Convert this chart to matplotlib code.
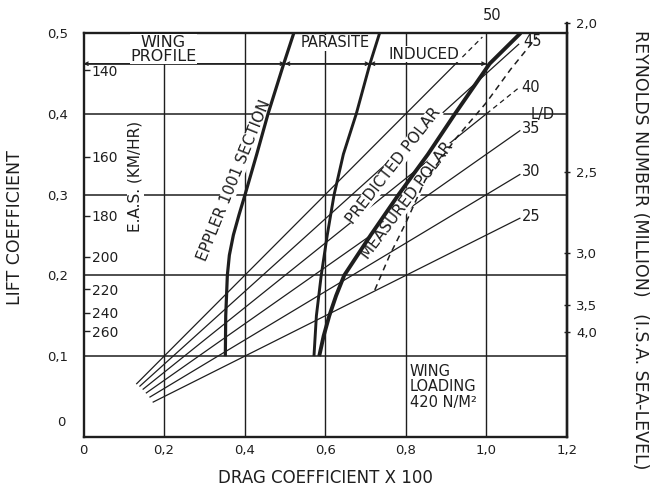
import matplotlib
matplotlib.use("Agg")
import matplotlib.pyplot as plt
import numpy as np

# ---------------- data ----------------
x_ticks = [0, 0.2, 0.4, 0.6, 0.8, 1.0, 1.2]
x_tick_labels = ["0", "0,2", "0,4", "0,6", "0,8", "1,0", "1,2"]
y_ticks = [0.1, 0.2, 0.3, 0.4, 0.5]
y_tick_labels = ["0,1", "0,2", "0,3", "0,4", "0,5"]

eppler_cd = [0.352, 0.353, 0.357, 0.362, 0.372, 0.386, 0.401, 0.430, 0.458, 0.497, 0.522]
eppler_cl = [0.10, 0.15, 0.20, 0.225, 0.25, 0.275, 0.30, 0.35, 0.40, 0.462, 0.50]

parasite_cd = [0.572, 0.578, 0.590, 0.605, 0.622, 0.645, 0.677, 0.711, 0.735]
parasite_cl = [0.10, 0.15, 0.20, 0.25, 0.30, 0.35, 0.40, 0.462, 0.50]

predicted_cd = [0.585, 0.596, 0.610, 0.627, 0.647, 0.713, 0.782, 0.855, 0.922, 1.008, 1.085]
predicted_cl = [0.10, 0.125, 0.15, 0.175, 0.20, 0.25, 0.30, 0.35, 0.40, 0.462, 0.50]

measured_cd = [0.723, 0.760, 0.800, 0.848, 0.925, 1.000, 1.060, 1.125]
measured_cl = [0.182, 0.225, 0.265, 0.318, 0.370, 0.414, 0.455, 0.495]

ld_values = [50, 45, 40, 35, 30, 25]
ld_cd_start = [0.132, 0.140, 0.148, 0.156, 0.165, 0.173]
ld_cd_solid_end = [0.925, 1.080, 1.000, 1.083, 1.083, 1.083]
ld_cd_dash_end = [0.990, None, 1.080, None, None, None]
ld_label_pos = [(1.013, 0.522), (1.115, 0.489), (1.110, 0.432),
                (1.110, 0.382), (1.112, 0.329), (1.112, 0.273)]

eas_values = ["140", "160", "180", "200", "220", "240", "260"]
eas_cl = [0.454, 0.347, 0.274, 0.223, 0.183, 0.154, 0.131]

re_labels = ["2,0", "2,5", "3,0", "3,5", "4,0"]
re_cl = [0.512, 0.328, 0.228, 0.163, 0.130]

header_cl = 0.462
header_cd_bounds = [0.0, 0.500, 0.711, 1.000]
header_texts = ["WING\nPROFILE", "PARASITE", "INDUCED"]

# ---------------- figure ----------------
ink = "#1e1e1e"
W, H = 652, 488
L, R, T, B = 83.5, 567, 33, 437
fig = plt.figure(figsize=(W / 100, H / 100), dpi=100)
ax = fig.add_axes([L / W, 1 - B / H, (R - L) / W, (B - T) / H])
ax.set_xlim(0, 1.2)
ax.set_ylim(0, 0.5)

for s in ax.spines.values():
    s.set_linewidth(1.7)
    s.set_color(ink)

ax.set_xticks(x_ticks)
ax.set_xticklabels(x_tick_labels, fontsize=9.5, color=ink)
ax.set_yticks(y_ticks)
ax.set_yticklabels(y_tick_labels, fontsize=9.5, color=ink)
ax.tick_params(axis="x", length=0, pad=5)
ax.tick_params(axis="y", length=0, pad=11)
ax.text(-0.045, 0.018, "0", ha="right", va="center", fontsize=9.5, color=ink)

# grid
for xv in x_ticks[1:-1]:
    top = header_cl if xv == 0.2 else 0.5
    ax.plot([xv, xv], [0, top], color=ink, lw=1.0, zorder=1)
for yv in y_ticks[:-1]:
    ax.plot([0, 1.2], [yv, yv], color=ink, lw=1.1, zorder=1)

# header dimension line
ax.plot([header_cd_bounds[0], header_cd_bounds[-1]], [header_cl, header_cl],
        color=ink, lw=1.1, zorder=2)
for a, b in zip(header_cd_bounds[:-1], header_cd_bounds[1:]):
    ax.annotate("", xy=(a, header_cl), xytext=(b, header_cl),
                arrowprops=dict(arrowstyle="<->", color=ink, lw=0.9,
                                mutation_scale=6, shrinkA=0, shrinkB=0), zorder=3)
ax.text(0.198, 0.480, header_texts[0], ha="center", va="center", fontsize=11.5,
        color=ink, linespacing=0.9,
        bbox=dict(facecolor="white", edgecolor="none", pad=0.3), zorder=4)
ax.text(0.624, 0.488, header_texts[1], ha="center", va="center", fontsize=10.5,
        color=ink, bbox=dict(facecolor="white", edgecolor="none", pad=0.3), zorder=4)
ax.text(0.845, 0.474, header_texts[2], ha="center", va="center", fontsize=11,
        color=ink, bbox=dict(facecolor="white", edgecolor="none", pad=0.3), zorder=4)

# L/D lines
for ld, x0, x1, x2, (lx, ly) in zip(ld_values, ld_cd_start, ld_cd_solid_end,
                                    ld_cd_dash_end, ld_label_pos):
    xs = np.array([x0, x1])
    ax.plot(xs, ld / 100 * xs, color=ink, lw=0.9, zorder=2)
    if x2 is not None:
        xd = np.array([x1, x2])
        ax.plot(xd, ld / 100 * xd, color=ink, lw=0.9, ls=(0, (4, 3)), zorder=2)
    ax.text(lx, ly, str(ld), ha="center", va="center", fontsize=10.5, color=ink,
            clip_on=False)
ax.text(1.14, 0.399, "L/D", ha="center", va="center", fontsize=10.5, color=ink)

# polars
ax.plot(eppler_cd, eppler_cl, color=ink, lw=2.3, zorder=5, solid_capstyle="butt")
ax.plot(parasite_cd, parasite_cl, color=ink, lw=2.1, zorder=5, solid_capstyle="butt")
ax.plot(predicted_cd, predicted_cl, color=ink, lw=2.8, zorder=5, solid_capstyle="butt")
ax.plot(measured_cd, measured_cl, color=ink, lw=1.1, ls=(0, (4, 3)), zorder=5)

# in-plot labels
lbl_box = dict(facecolor="white", edgecolor="none", pad=0.1)
ax.text(0.374, 0.318, "EPPLER 1001 SECTION", rotation=68, ha="center", va="center",
        fontsize=11, color=ink, rotation_mode="anchor", bbox=lbl_box, zorder=4)
ax.text(0.770, 0.336, "PREDICTED POLAR", rotation=52, ha="center", va="center",
        fontsize=11, color=ink, rotation_mode="anchor", bbox=lbl_box, zorder=4)
ax.text(0.803, 0.293, "MEASURED POLAR", rotation=53, ha="center", va="center",
        fontsize=11, color=ink, rotation_mode="anchor", bbox=lbl_box, zorder=4)
ax.text(0.129, 0.322, "E.A.S. (KM/HR)", rotation=90, ha="center", va="center",
        fontsize=11, color=ink,
        bbox=dict(facecolor="white", edgecolor="none", pad=0.8), zorder=4)
ax.text(0.81, 0.062, "WING\nLOADING\n420 N/M\u00b2", ha="left", va="center",
        fontsize=10.5, color=ink, linespacing=1.05, zorder=4)

# E.A.S. ticks (inside, left)
ax_eas = ax.twinx()
ax_eas.set_ylim(ax.get_ylim())
ax_eas.yaxis.tick_left()
ax_eas.set_yticks(eas_cl)
ax_eas.set_yticklabels(eas_values, fontsize=10, color=ink)
ax_eas.tick_params(axis="y", direction="in", length=4, width=1.0, pad=-6, colors=ink)
for lbl in ax_eas.get_yticklabels():
    lbl.set_horizontalalignment("left")
for s in ax_eas.spines.values():
    s.set_visible(False)

# Reynolds number axis (right), extends slightly above the plot frame
top_re = 23
ax_re = fig.add_axes([L / W, 1 - B / H, (R - L) / W, (B - top_re) / H])
ax_re.patch.set_visible(False)
ax_re.set_ylim(0, 0.5 * (B - top_re) / (B - T))
ax_re.set_xticks([])
ax_re.yaxis.tick_right()
ax_re.set_yticks(re_cl)
ax_re.set_yticklabels(re_labels, fontsize=9.5, color=ink)
ax_re.tick_params(axis="y", direction="inout", length=5, width=1.0, pad=4, colors=ink)
for name, s in ax_re.spines.items():
    s.set_visible(name == "right")
ax_re.spines["right"].set_linewidth(1.7)
ax_re.spines["right"].set_color(ink)

# axis titles
fig.text(325 / W, 1 - 478 / H, "DRAG COEFFICIENT X 100", ha="center", va="center",
         fontsize=12, color=ink)
fig.text(15 / W, 1 - 228 / H, "LIFT COEFFICIENT", ha="center", va="center",
         rotation=90, fontsize=12.5, color=ink)
fig.text(640 / W, 1 - 250 / H, "REYNOLDS NUMBER (MILLION)   (I.S.A. SEA-LEVEL)",
         ha="center", va="center", rotation=270, fontsize=12.5, color=ink)

fig.savefig("out.png", dpi=100, facecolor="white")
